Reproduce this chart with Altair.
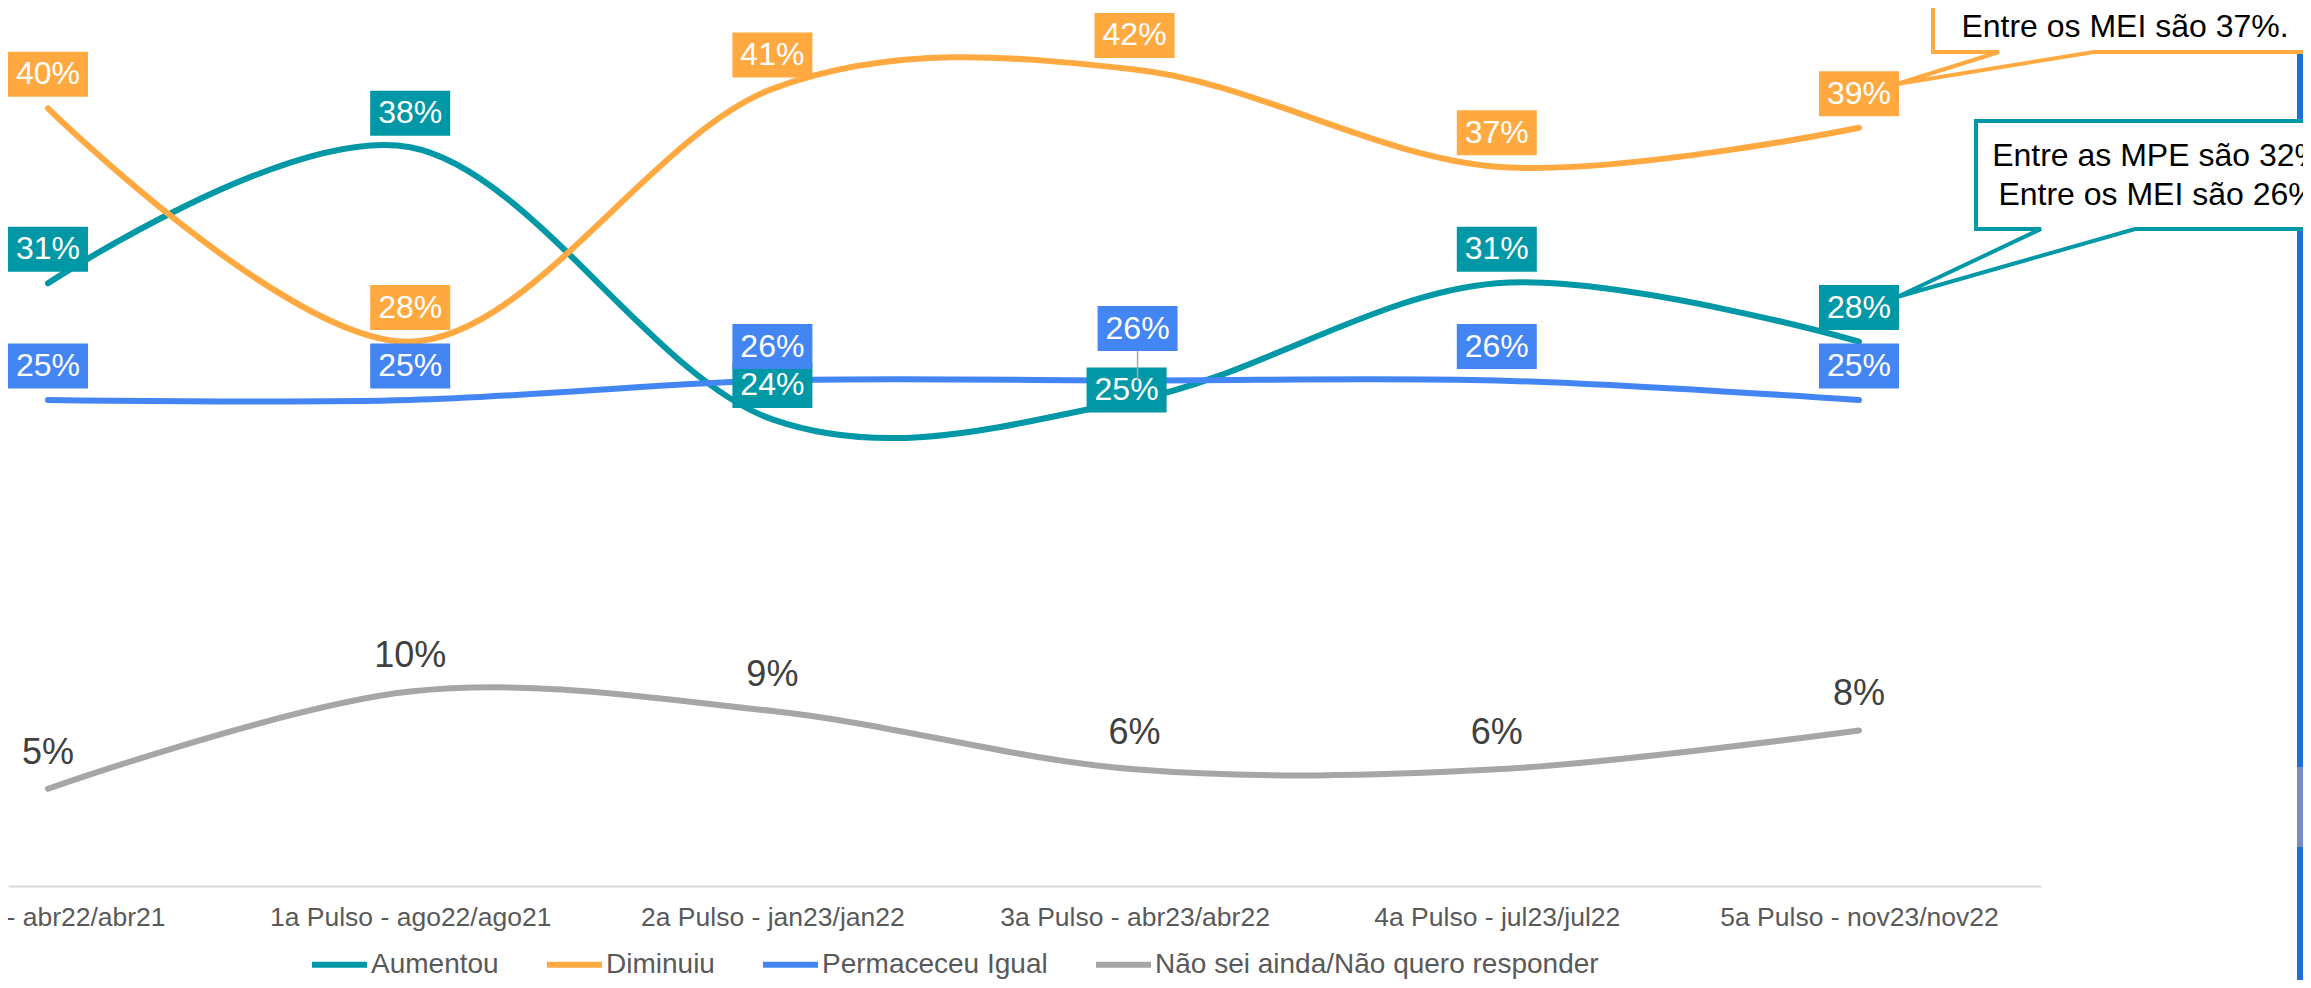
import altair as alt
import pandas as pd

# ---------------- data ----------------
categorias = [
    "Inicial - abr22/abr21",
    "1a Pulso - ago22/ago21",
    "2a Pulso - jan23/jan22",
    "3a Pulso - abr23/abr22",
    "4a Pulso - jul23/jul22",
    "5a Pulso - nov23/nov22",
]
series = ["Aumentou", "Diminuiu", "Permaceceu Igual", "Não sei ainda/Não quero responder"]
aumentou = [31, 38, 24, 25, 31, 28]
diminuiu = [40, 28, 41, 42, 37, 39]
permaneceu_igual = [25, 25, 26, 26, 26, 25]
nao_sei = [5, 10, 9, 6, 6, 8]
cores = ["#0098A6", "#FFA940", "#4485F4", "#A6A6A6"]

nota_diminuiu = ["Entre os MEI são 37%."]
nota_aumentou = ["Entre as MPE são 32%.", "Entre os MEI são 26%."]

rows = []
for nome, vals in zip(series, [aumentou, diminuiu, permaneceu_igual, nao_sei]):
    for i, (cat, v) in enumerate(zip(categorias, vals)):
        rows.append({"serie": nome, "idx": i, "categoria": cat, "valor": v, "rotulo": f"{v}%"})
df = pd.DataFrame(rows)

FONT = "Liberation Sans"
W, H = 2033, 878

x_scale = alt.Scale(domain=[-0.1104, 5.5025], nice=False, zero=False)
y_scale = alt.Scale(domain=[0, 45.16], nice=False, zero=False)
color_scale = alt.Scale(domain=series, range=cores)

label_expr = "[" + ",".join("'" + c + "'" for c in categorias) + "][datum.value]"

x_enc = alt.X(
    "idx:Q",
    scale=x_scale,
    axis=alt.Axis(
        values=list(range(len(categorias))),
        labelExpr=label_expr,
        title=None,
        grid=False,
        ticks=False,
        tickSize=0,
        domainColor="#D9D9D9",
        domainWidth=2,
        labelFont=FONT,
        labelFontSize=26.5,
        labelColor="#595959",
        labelPadding=31,
        labelBaseline="middle",
        labelFlush=False,
        labelOverlap=False,
        labelBound=False,
        labelLimit=0,
    ),
)
y_enc = alt.Y("valor:Q", scale=y_scale, axis=None)

legend = alt.Legend(
    orient="none",
    legendX=301,
    legendY=926,
    direction="horizontal",
    title=None,
    symbolType="stroke",
    symbolSize=3025,
    symbolStrokeWidth=6,
    labelFont=FONT,
    labelFontSize=28,
    labelColor="#595959",
    labelOffset=1,
    columnPadding=36,
    labelLimit=0,
    padding=0,
)

base = alt.Chart(df)

lines = base.mark_line(interpolate="cardinal", strokeWidth=6, strokeCap="round").encode(
    x=x_enc, y=y_enc, color=alt.Color("serie:N", scale=color_scale, legend=legend)
)

BOX = "M-40,-22.5H40V22.5H-40Z"
boxed = "datum.serie != 'Não sei ainda/Não quero responder'"
special_t = "datum.serie == 'Aumentou' && datum.idx == 3"
special_b = "datum.serie == 'Permaceceu Igual' && datum.idx == 3"


def box_label(flt, dx, dy):
    src = base.transform_filter(flt)
    b = src.mark_point(shape=BOX, size=4, filled=True, opacity=1, strokeWidth=0,
                       xOffset=dx, yOffset=dy).encode(
        x=x_enc, y=y_enc, fill=alt.Fill("serie:N", scale=color_scale, legend=None)
    )
    t = src.mark_text(font=FONT, fontSize=32, color="white", align="center", baseline="middle",
                      xOffset=dx, yOffset=dy).encode(x=x_enc, y=y_enc, text="rotulo:N")
    return [b, t]


normal = f"({boxed}) && !({special_t}) && !({special_b})"
box_layers = box_label(normal, 0, -34) + box_label(special_t, -8, -10) + box_label(special_b, 3, -52)

leader = base.transform_filter(special_b).mark_rule(
    color="#A6A6A6", strokeWidth=1.5, xOffset=3, y2Offset=-29.5
).encode(x=x_enc, y=y_enc, y2="valor:Q")

gray_labels = base.transform_filter(f"!({boxed})").mark_text(
    font=FONT, fontSize=36, color="#404040", align="center", baseline="middle", yOffset=-36
).encode(x=x_enc, y=y_enc, text="rotulo:N")

# ---------------- decorations (slide background / callouts) ----------------
one = alt.Chart(pd.DataFrame({"k": [0]}))
bar = one.mark_rect(color="#1E6FD8").encode(
    x=alt.value(2289), x2=alt.value(2330), y=alt.value(-10), y2=alt.value(1000)
)
bar_light = one.mark_rect(color="#7B8BC6").encode(
    x=alt.value(2289), x2=alt.value(2330), y=alt.value(759), y2=alt.value(839)
)
callout_o = one.mark_point(
    shape="M1925,-20L1925,44L1991,44L1889,76L2086,44L2340,44L2340,-20Z",
    size=4, filled=True, fill="white", stroke="#FFA940", strokeWidth=4, opacity=1,
    strokeJoin="miter",
).encode(x=alt.value(0), y=alt.value(0))
callout_t = one.mark_point(
    shape="M1968,113L2360,113L2360,221L2127,221L1889,289L2033,221L1968,221Z",
    size=4, filled=True, fill="white", stroke="#0098A6", strokeWidth=4, opacity=1,
    strokeJoin="miter",
).encode(x=alt.value(0), y=alt.value(0))
txt_o = one.mark_text(font=FONT, fontSize=32, color="black", align="center", baseline="middle").encode(
    x=alt.value(2117), y=alt.value(19), text=alt.value(nota_diminuiu[0])
)
txt_t1 = one.mark_text(font=FONT, fontSize=32, color="black", align="center", baseline="middle").encode(
    x=alt.value(2154), y=alt.value(148), text=alt.value(nota_aumentou[0])
)
txt_t2 = one.mark_text(font=FONT, fontSize=32, color="black", align="center", baseline="middle").encode(
    x=alt.value(2154), y=alt.value(187), text=alt.value(nota_aumentou[1])
)

chart = alt.layer(
    lines, *box_layers, leader, gray_labels,
    bar, bar_light, callout_o, callout_t, txt_o, txt_t1, txt_t2,
).properties(
    width=W,
    height=H,
    padding={"left": 0, "top": 0, "right": 262, "bottom": 94},
    autosize=alt.AutoSizeParams(type="none"),
).configure(font=FONT).configure_view(stroke=None)

chart.save("out.html", embed_options={"renderer": "svg", "actions": False})
